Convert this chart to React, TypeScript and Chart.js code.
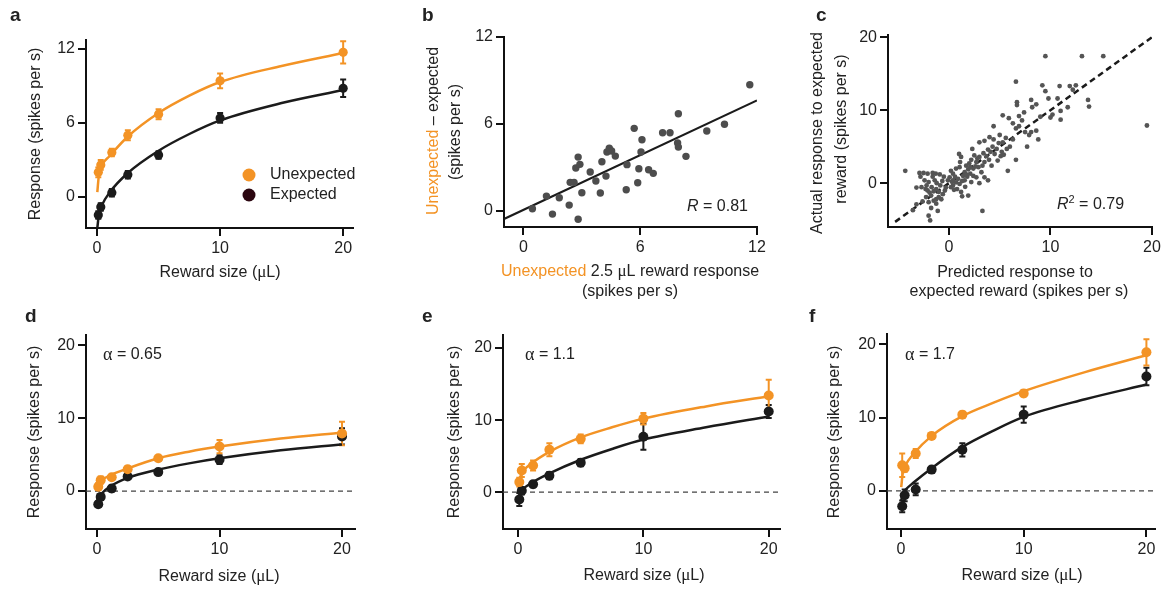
import React, { useEffect, useRef } from "react";
import { Chart, registerables } from "chart.js";
Chart.register(...registerables);

const ORANGE = "#F39325";
const DARK = "#1b1b1b";
const LEGEND_DARK = "#2b0610";
const GRAY_DOT = "#4d4d4d";
const TEXT = "#222222";
const AXIS = "#111111";
const SANS = "'Liberation Sans', Arial, Helvetica, sans-serif";
const SERIF = "'Liberation Serif', 'Times New Roman', serif";

// ---------- shared ----------
const rewardSizes = [0.1, 0.3, 1.2, 2.5, 5, 10, 20];
const fitX = [0.02, 0.15, 0.4, 1, 2.5, 5, 7.5, 10, 15, 20];
const rewardTicks = [0, 10, 20];

// ---------- panel a ----------
const aYTicks = [0, 6, 12];
const aUnexpMean = [2.0, 2.6, 3.6, 5.0, 6.7, 9.4, 11.7];
const aUnexpErr = [0.4, 0.4, 0.3, 0.4, 0.4, 0.6, 0.9];
const aExpMean = [-1.45, -0.8, 0.35, 1.8, 3.4, 6.4, 8.8];
const aExpErr = [0.3, 0.3, 0.3, 0.3, 0.3, 0.4, 0.7];
const aUnexpFit = [0.4, 1.8, 2.6, 3.3, 4.9, 6.8, 8.2, 9.3, 10.6, 11.65];
const aExpFit = [-2.5, -1.4, -0.65, 0.35, 1.95, 3.75, 5.1, 6.2, 7.6, 8.65];

// ---------- panel b ----------
const bTicks = [0, 6, 12];
const bUnexp25 = [0.46, 1.18, 1.49, 1.84, 2.35, 2.4, 2.6, 2.69, 2.81, 2.9, 2.81, 3.0, 3.43, 3.72, 3.95, 4.03, 4.24, 4.29, 4.41, 4.53, 4.72, 5.28, 5.32, 5.69, 5.87, 5.93, 6.04, 6.09, 6.43, 6.67, 7.15, 7.53, 7.96, 7.92, 7.96, 8.35, 9.42, 10.33, 11.63];
const bDiff = [0.16, 1.03, -0.21, 0.92, 0.41, 1.98, 1.98, 2.97, 3.72, 3.22, -0.57, 1.26, 2.69, 2.07, 1.24, 3.4, 2.41, 4.07, 4.34, 4.14, 3.79, 1.47, 3.2, 5.7, 1.95, 2.92, 4.07, 4.92, 2.85, 2.6, 5.4, 5.4, 6.71, 4.69, 4.41, 3.77, 5.52, 5.98, 8.71];
const bFitX = [-1, 12];
const bFitY = [-0.55, 7.63];

// ---------- panel c ----------
const cTicks = [0, 10, 20];
const cPredicted = [
  9.5, 13.1, 15.2, 19.5, 6.6, 9.2, 9.5, 10.9, 11.9, 12.2, 12.5, 13.7, 13.8, 11.7, 11.0, 10.2, 9.8, 10.7, 8.6, 8.2,
  9.0, 10.0, 11.0, 8.1, 6.7, 6.7, 5.3, 5.9, 6.9, 7.2, 6.3, 4.4, 6.6, 7.5, 8.1, 8.6, 7.9, 8.8, 7.7, 6.6,
  5.8, 3.3, -4.3,
  -2.9, -2.5, -2.1, -1.6, -1.3, -0.9, -0.5, -3.2, -2.7, -2.3, -2.1, -1.7, -1.5, -1.25, -1.0, -0.85, -2.0, -2.4, -1.4, -1.2,
  -0.65, -1.75, -2.25, -2.6, -2.0, -1.5, -1.25, -1.75, -1.1, -2.0, -1.85, -3.55, -3.2, -1.25, -0.75, -0.6, -1.0,
  0.2, 0.7, 1.05, 1.0, 1.2, 0.4, 0.7, 0.4, 0.2, 0.8, 1.2, 1.3, 1.05, 1.55, 1.8, 2.1, 1.55, 1.7, 2.2, 2.5,
  2.3, 2.7, 3.0, 3.4, 2.9, 3.2, 2.7, 2.2, 3.0, 3.5, 3.85, 3.0, 3.5, 4.0, 4.4, 3.85, 4.3, 4.7, 5.0, 4.5,
  5.1, 4.8, 5.4, 5.7, 6.0, 5.3, 3.95, 3.5, 4.2, 1.9, 0.4, -0.1, 0.07, 2.4,
  0.5, 0.9, 1.4, 1.9, 2.0, 2.6, 1.3, 0.6, 1.6, 2.4, 3.3, 2.8, 3.7, 4.1, -1.6, -2.2, -0.3, -1.9, -2.8, -0.4,
  1.1, 0.3, 1.7, 2.1, 6.3, 6.9, 7.4, 5.6, 4.9, 5.2,
];
const cActual = [
  17.4, 17.4, 17.4, 7.9, 13.9, 13.4, 12.6, 13.3, 13.3, 12.8, 13.4, 11.4, 10.5, 10.4, 9.9, 9.4, 11.6, 11.6, 10.8, 10.4,
  9.1, 9.0, 8.7, 11.4, 11.1, 10.7, 9.3, 8.9, 9.2, 8.6, 8.2, 7.8, 7.5, 7.0, 7.0, 7.2, 6.6, 6.0, 5.0, 3.2,
  1.7, -3.8, 1.7,
  1.4, 1.4, 1.3, 1.4, 1.3, 1.2, 0.9, -0.6, -0.55, -0.8, -1.0, -0.55, -1.1, -0.8, -1.2, -0.3, 0.15, 0.4, 0.4, 0.0,
  0.3, -1.7, -1.9, -2.5, -2.6, -2.4, -2.8, -3.4, -3.8, -4.45, -5.1, -3.7, -2.9, -2.2, -2.2, -1.5, -1.9,
  1.7, 2.0, 2.2, 4.0, 3.6, 0.4, 0.1, -0.3, -0.55, -0.8, -1.2, -1.8, -0.1, 0.4, 0.9, 1.3, 1.5, 2.4, 3.2, 3.8,
  4.7, 2.9, 3.6, 4.1, 2.2, 1.5, 0.8, 0.15, 0.0, 0.8, 0.4, 5.6, 5.8, 6.3, 6.0, 4.6, 5.0, 4.7, 6.6, 4.0,
  3.7, 3.1, 3.9, 4.7, 5.0, 5.6, 3.2, 2.9, 2.4, -1.7, 1.3, 0.4, 0.8, 2.0,
  -0.9, 0.6, 1.0, 1.9, 2.7, 2.3, 0.3, 0.9, -0.5, 1.0, 2.4, 3.4, 3.7, 4.3, 0.9, -0.3, -0.6, -1.3, 0.9, -1.0,
  2.9, 0.2, 1.2, 2.2, 6.0, 7.8, 9.7, 6.2, 5.5, 4.3,
];
const cRefX = [-5.3, 20];
const cRefY = [-5.3, 20];

// ---------- panels d, e, f ----------
const dUnexpMean = [0.6, 1.5, 1.9, 3.0, 4.5, 6.1, 7.9];
const dUnexpErr = [0.5, 0.5, 0.3, 0.4, 0.3, 0.9, 1.6];
const dExpMean = [-1.8, -0.8, 0.35, 2.0, 2.6, 4.3, 7.5];
const dExpErr = [0.4, 0.4, 0.4, 0.3, 0.4, 0.6, 1.1];
const dUnexpFit = [0.3, 1.0, 1.5, 2.1, 3.1, 4.5, 5.4, 6.1, 7.2, 8.0];
const dExpFit = [-1.3, -0.8, -0.3, 0.55, 1.8, 2.95, 3.8, 4.5, 5.6, 6.4];

const eUnexpMean = [1.4, 3.0, 3.7, 5.9, 7.4, 10.2, 13.4];
const eUnexpErr = [0.6, 0.9, 0.7, 0.9, 0.6, 0.8, 2.2];
const eExpMean = [-1.0, 0.2, 1.1, 2.3, 4.1, 7.7, 11.2];
const eExpErr = [0.9, 0.5, 0.4, 0.5, 0.5, 1.8, 0.9];
const eUnexpFit = [1.0, 2.0, 2.9, 3.9, 5.6, 7.6, 9.0, 10.2, 11.9, 13.3];
const eExpFit = [-1.2, -0.3, 0.4, 1.2, 2.6, 4.5, 6.0, 7.3, 9.0, 10.5];

const fUnexpMean = [3.5, 3.1, 5.1, 7.5, 10.4, 13.3, 18.9];
const fUnexpErr = [1.6, 0.5, 0.6, 0.4, 0.4, 0.4, 1.8];
const fExpMean = [-2.1, -0.6, 0.2, 2.9, 5.6, 10.4, 15.6];
const fExpErr = [0.8, 0.8, 0.8, 0.4, 0.9, 1.1, 1.2];
const fUnexpFit = [0.5, 2.5, 3.6, 5.0, 7.5, 10.2, 12.0, 13.6, 16.2, 18.5];
const fExpFit = [-1.3, -0.4, 0.2, 1.1, 3.1, 6.0, 8.2, 10.1, 12.5, 14.5];

const defTicks = [0, 10, 20];

// ---------- types ----------
type Box = { left: number; top: number; width: number; height: number };
type Area = { l: number; t: number; r: number; b: number };
type Part = { t: string; color?: string; italic?: boolean; serif?: boolean; size?: number; dy?: number; bold?: boolean };
type TextItem = { x: number; y: number; parts: Part[]; align?: "left" | "center" | "right"; rot?: boolean; baseline?: CanvasTextBaseline; size?: number; bold?: boolean };
type Dot = { x: number; y: number; r: number; color: string };
type ErrSet = { ds: number; errs: number[]; color: string };
type Spec = {
  box: Box; area: Area;
  xMin: number; xMax: number; yMin: number; yMax: number;
  xTicks: number[]; yTicks: number[];
  datasets: any[]; errSets: ErrSet[]; texts: TextItem[]; dots: Dot[];
};

const pts = (xs: number[], ys: number[]) => xs.map((x, i) => ({ x, y: ys[i] }));

function fontOf(p: Part, it: TextItem) {
  const size = p.size ?? it.size ?? 16;
  const weight = p.bold ?? it.bold ? "bold " : "";
  const style = p.italic ? "italic " : "";
  return `${style}${weight}${size}px ${p.serif ? SERIF : SANS}`;
}

function textPlugin(box: Box, items: TextItem[], dots: Dot[]) {
  return {
    id: "panelText",
    afterDraw(chart: any) {
      const ctx: CanvasRenderingContext2D = chart.ctx;
      ctx.save();
      for (const d of dots) {
        ctx.beginPath();
        ctx.fillStyle = d.color;
        ctx.arc(d.x - box.left, d.y - box.top, d.r, 0, Math.PI * 2);
        ctx.fill();
      }
      for (const it of items) {
        ctx.save();
        ctx.translate(it.x - box.left, it.y - box.top);
        if (it.rot) ctx.rotate(-Math.PI / 2);
        ctx.textBaseline = it.baseline ?? "middle";
        ctx.textAlign = "left";
        let total = 0;
        const widths = it.parts.map((p) => {
          ctx.font = fontOf(p, it);
          const w = ctx.measureText(p.t).width;
          total += w;
          return w;
        });
        let x0 = it.align === "left" ? 0 : it.align === "right" ? -total : -total / 2;
        it.parts.forEach((p, i) => {
          ctx.font = fontOf(p, it);
          ctx.fillStyle = p.color ?? TEXT;
          ctx.fillText(p.t, x0, p.dy ?? 0);
          x0 += widths[i];
        });
        ctx.restore();
      }
      ctx.restore();
    },
  };
}

function errorPlugin(sets: ErrSet[]) {
  return {
    id: "errorBars",
    beforeDatasetsDraw(chart: any) {
      const { ctx, scales } = chart;
      const xs = scales.x, ys = scales.y;
      for (const s of sets) {
        const data = chart.data.datasets[s.ds].data as { x: number; y: number }[];
        ctx.save();
        ctx.strokeStyle = s.color;
        ctx.lineWidth = 2;
        data.forEach((pt, i) => {
          const e = s.errs[i];
          const px = xs.getPixelForValue(pt.x);
          const y1 = ys.getPixelForValue(pt.y - e);
          const y2 = ys.getPixelForValue(pt.y + e);
          ctx.beginPath();
          ctx.moveTo(px, y1); ctx.lineTo(px, y2);
          ctx.moveTo(px - 3, y1); ctx.lineTo(px + 3, y1);
          ctx.moveTo(px - 3, y2); ctx.lineTo(px + 3, y2);
          ctx.stroke();
        });
        ctx.restore();
      }
    },
  };
}

function axisOpts(min: number, max: number, ticks: number[], fit: (s: any) => void) {
  return {
    type: "linear",
    min, max,
    afterFit: fit,
    afterBuildTicks: (s: any) => { s.ticks = ticks.map((v) => ({ value: v })); },
    grid: { display: true, drawOnChartArea: false, drawTicks: true, tickLength: 8, tickWidth: 2, tickColor: AXIS, lineWidth: 2, color: AXIS },
    border: { display: true, color: AXIS, width: 2 },
    ticks: { font: { family: SANS, size: 16 }, color: TEXT, padding: 3, maxRotation: 0, autoSkip: false, callback: (v: any) => String(v) },
    title: { display: false },
  };
}

function buildConfig(sp: Spec): any {
  const { box, area } = sp;
  return {
    type: "scatter",
    data: { datasets: sp.datasets },
    options: {
      responsive: false,
      animation: false,
      devicePixelRatio: 1,
      layout: { padding: { left: 0, top: area.t - box.top, right: box.left + box.width - area.r, bottom: 0 } },
      plugins: { legend: { display: false }, tooltip: { enabled: false } },
      scales: {
        x: axisOpts(sp.xMin, sp.xMax, sp.xTicks, (s: any) => { s.height = box.top + box.height - area.b; }),
        y: axisOpts(sp.yMin, sp.yMax, sp.yTicks, (s: any) => { s.width = area.l - box.left; }),
      },
    },
    plugins: [errorPlugin(sp.errSets), textPlugin(box, sp.texts, sp.dots)],
  };
}

const pointDs = (data: any[], color: string, r: number) => ({ type: "scatter", data, backgroundColor: color, borderWidth: 0, pointRadius: r, pointHoverRadius: r, showLine: false });
const lineDs = (data: any[], color: string, width: number, dash: number[] = [], curve = true) => ({
  type: "line", data, borderColor: color, borderWidth: width, pointRadius: 0, borderDash: dash, fill: false,
  cubicInterpolationMode: curve ? "monotone" : "default", tension: 0,
});

const rewardTitle = (x: number, y: number): TextItem => ({ x, y, parts: [{ t: "Reward size (" }, { t: "μ", serif: true, size: 17 }, { t: "L)" }] });
const respTitle = (x: number, y: number): TextItem => ({ x, y, rot: true, parts: [{ t: "Response (spikes per s)" }] });
const letter = (t: string, x: number, y: number): TextItem => ({ x, y, align: "left", baseline: "alphabetic", bold: true, size: 19, parts: [{ t }] });
const alphaText = (v: string, x: number, y: number): TextItem => ({ x, y, align: "left", parts: [{ t: "α", serif: true, size: 18 }, { t: " = " + v }] });

function rewardPanel(box: Box, area: Area, xMin: number, xMax: number, yMin: number, yMax: number, yTicks: number[],
  uM: number[], uE: number[], eM: number[], eE: number[], uF: number[], eF: number[], r: number, zero: boolean, texts: TextItem[], dots: Dot[]): Spec {
  const datasets: any[] = [
    pointDs(pts(rewardSizes, uM), ORANGE, r),
    pointDs(pts(rewardSizes, eM), DARK, r),
    lineDs(pts(fitX, uF), ORANGE, 2.5),
    lineDs(pts(fitX, eF), DARK, 2.5),
  ];
  if (zero) datasets.push(lineDs(pts([xMin, xMax], [0, 0]), "#444", 1.2, [5, 4], false));
  return {
    box, area, xMin, xMax, yMin, yMax, xTicks: rewardTicks, yTicks, datasets,
    errSets: [{ ds: 1, errs: eE, color: DARK }, { ds: 0, errs: uE, color: ORANGE }],
    texts, dots,
  };
}

const specs: Spec[] = [
  rewardPanel({ left: 0, top: 0, width: 390, height: 300 }, { l: 86, t: 40, r: 353, b: 228 }, -0.9, 20.8, -2.5, 12.7, aYTicks,
    aUnexpMean, aUnexpErr, aExpMean, aExpErr, aUnexpFit, aExpFit, 4.6, false,
    [letter("a", 10, 21), respTitle(36, 134), rewardTitle(220, 273),
      { x: 270, y: 175, align: "left", parts: [{ t: "Unexpected" }] },
      { x: 270, y: 195, align: "left", parts: [{ t: "Expected" }] }],
    [{ x: 249, y: 175, r: 6.5, color: ORANGE }, { x: 249, y: 195, r: 6.5, color: LEGEND_DARK }]),
  {
    box: { left: 390, top: 0, width: 390, height: 300 }, area: { l: 504, t: 37, r: 757, b: 227 },
    xMin: -1, xMax: 12, yMin: -1.1, yMax: 12, xTicks: bTicks, yTicks: bTicks,
    datasets: [pointDs(pts(bUnexp25, bDiff), GRAY_DOT, 3.7), lineDs(pts(bFitX, bFitY), DARK, 2.2, [], false)],
    errSets: [],
    texts: [
      letter("b", 422, 21),
      { x: 434, y: 131, rot: true, parts: [{ t: "Unexpected", color: ORANGE }, { t: " – expected" }] },
      { x: 456, y: 132, rot: true, parts: [{ t: "(spikes per s)" }] },
      { x: 630, y: 272, parts: [{ t: "Unexpected", color: ORANGE }, { t: " 2.5 " }, { t: "μ", serif: true, size: 17 }, { t: "L reward response" }] },
      { x: 630, y: 292, parts: [{ t: "(spikes per s)" }] },
      { x: 748, y: 207, align: "right", parts: [{ t: "R", italic: true }, { t: " = 0.81" }] },
    ],
    dots: [],
  },
  {
    box: { left: 780, top: 0, width: 388, height: 300 }, area: { l: 888, t: 35, r: 1152, b: 227 },
    xMin: -6, xMax: 20, yMin: -6, yMax: 20.3, xTicks: cTicks, yTicks: cTicks,
    datasets: [pointDs(pts(cPredicted, cActual), "#555555", 2.4), lineDs(pts(cRefX, cRefY), DARK, 2.5, [6, 4], false)],
    errSets: [],
    texts: [
      letter("c", 816, 21),
      { x: 818, y: 133, rot: true, parts: [{ t: "Actual response to expected" }] },
      { x: 842, y: 129, rot: true, parts: [{ t: "reward (spikes per s)" }] },
      { x: 1015, y: 273, parts: [{ t: "Predicted response to" }] },
      { x: 1019, y: 292, parts: [{ t: "expected reward (spikes per s)" }] },
      { x: 1057, y: 205, align: "left", parts: [{ t: "R", italic: true }, { t: "2", size: 11, dy: -5 }, { t: " = 0.79" }] },
    ],
    dots: [],
  },
  rewardPanel({ left: 0, top: 300, width: 390, height: 289 }, { l: 86, t: 335, r: 355, b: 529 }, -0.9, 21.06, -5.2, 21.4, defTicks,
    dUnexpMean, dUnexpErr, dExpMean, dExpErr, dUnexpFit, dExpFit, 5, true,
    [letter("d", 25, 322), alphaText("0.65", 103, 355), respTitle(35, 432), rewardTitle(219, 577)], []),
  rewardPanel({ left: 390, top: 300, width: 400, height: 289 }, { l: 503, t: 335, r: 780, b: 529 }, -1.2, 20.9, -5.1, 21.8, defTicks,
    eUnexpMean, eUnexpErr, eExpMean, eExpErr, eUnexpFit, eExpFit, 5, true,
    [letter("e", 422, 322), alphaText("1.1", 525, 355), respTitle(455, 432), rewardTitle(644, 576)], []),
  rewardPanel({ left: 780, top: 300, width: 388, height: 289 }, { l: 887, t: 334, r: 1155, b: 529 }, -1.14, 20.7, -5.2, 21.4, defTicks,
    fUnexpMean, fUnexpErr, fExpMean, fExpErr, fUnexpFit, fExpFit, 5, true,
    [letter("f", 809, 322), alphaText("1.7", 905, 355), respTitle(835, 432), rewardTitle(1022, 576)], []),
];

function Panel({ spec }: { spec: Spec }) {
  const ref = useRef<HTMLCanvasElement>(null);
  useEffect(() => {
    if (!ref.current) return;
    const chart = new Chart(ref.current, buildConfig(spec));
    return () => chart.destroy();
  }, [spec]);
  const b = spec.box;
  return (
    <canvas ref={ref} width={b.width} height={b.height}
      style={{ position: "absolute", left: b.left, top: b.top, width: b.width, height: b.height }} />
  );
}

export default function App() {
  return (
    <div style={{ position: "absolute", left: 0, top: 0, width: 1168, height: 589, background: "#ffffff", overflow: "hidden" }}>
      {specs.map((s, i) => <Panel key={i} spec={s} />)}
    </div>
  );
}
